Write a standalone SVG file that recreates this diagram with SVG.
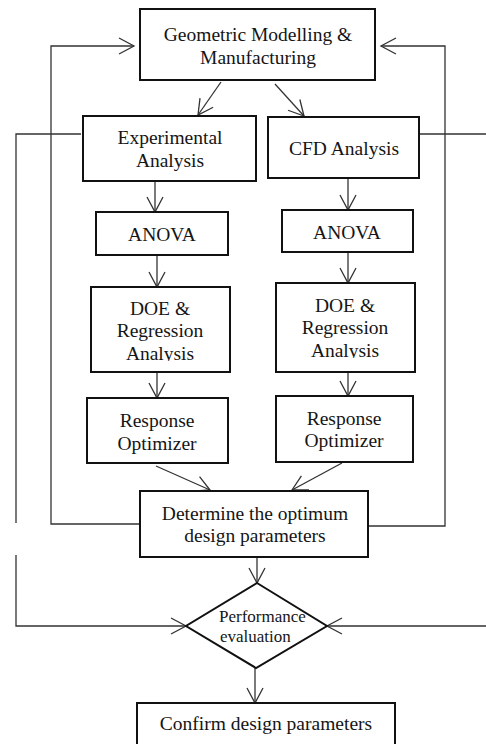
<svg xmlns="http://www.w3.org/2000/svg" width="486" height="744" viewBox="0 0 486 744">
  <style>
    .box { fill: #fff; stroke: #111; stroke-width: 2; }
    .lbl { font-family: "Liberation Serif", "Times New Roman", serif; font-size: 19.5px; fill: #151515; text-anchor: middle; }
    .small { font-family: "Liberation Serif", "Times New Roman", serif; font-size: 17px; fill: #151515; }
    .conn { fill: none; stroke: #333; stroke-width: 1.3; }
  </style>
  <defs>
    <marker id="arrow" markerUnits="userSpaceOnUse" viewBox="-16 -10 18 20" refX="0" refY="0" markerWidth="18" markerHeight="20" orient="auto" overflow="visible">
      <path d="M-15,-8 L0,0 L-15,8" fill="none" stroke="#333" stroke-width="1.3"/>
    </marker>
    <!-- trims the descender of the last line in the regression boxes -->
    <clipPath id="clipDoeL"><rect x="80" y="300" width="160" height="61"/></clipPath>
    <clipPath id="clipDoeR"><rect x="266" y="296" width="160" height="62"/></clipPath>
  </defs>

  <rect width="486" height="744" fill="#fff"/>

  <!-- connectors -->
  <g id="connectors" class="conn">
    <path d="M221,82 L198,115" marker-end="url(#arrow)"/>
    <path d="M275,84 L304,116" marker-end="url(#arrow)"/>
    <path d="M155,181 V212" marker-end="url(#arrow)"/>
    <path d="M157,255 V287" marker-end="url(#arrow)"/>
    <path d="M157,372 V398" marker-end="url(#arrow)"/>
    <path d="M348,178 V210" marker-end="url(#arrow)"/>
    <path d="M348,252 V283" marker-end="url(#arrow)"/>
    <path d="M348,372 V396" marker-end="url(#arrow)"/>
    <path d="M156,466 L210,490" marker-end="url(#arrow)"/>
    <path d="M342,463 L292,490" marker-end="url(#arrow)"/>
    <!-- feedback loops back to the modelling stage -->
    <path d="M140,524 H51 V46 H134" marker-end="url(#arrow)"/>
    <path d="M368,526 H445 V46 H381" marker-end="url(#arrow)"/>
    <!-- side inputs to the evaluation step -->
    <path d="M81,134 H16 V523 M16,555 V626 H186" marker-end="url(#arrow)"/>
    <path d="M419,134 H492 V626 H327" marker-end="url(#arrow)"/>
    <path d="M257,557 V583" marker-end="url(#arrow)"/>
    <path d="M255,668 V703" marker-end="url(#arrow)"/>
  </g>

  <g id="geometric-modelling">
    <rect class="box" x="140" y="9" width="235" height="71"/>
    <text class="lbl" x="258" y="41">Geometric Modelling &amp;</text>
    <text class="lbl" x="258" y="64">Manufacturing</text>
  </g>

  <g id="experimental-analysis">
    <rect class="box" x="83" y="116" width="173" height="65"/>
    <text class="lbl" x="170" y="144">Experimental</text>
    <text class="lbl" x="170" y="167">Analysis</text>
  </g>

  <g id="cfd-analysis">
    <rect class="box" x="268" y="117" width="151" height="61"/>
    <text class="lbl" x="344" y="155">CFD Analysis</text>
  </g>

  <g id="anova-left">
    <rect class="box" x="96" y="212" width="132" height="43"/>
    <text class="lbl" x="162" y="241">ANOVA</text>
  </g>

  <g id="anova-right">
    <rect class="box" x="282" y="210" width="131" height="42"/>
    <text class="lbl" x="347" y="239">ANOVA</text>
  </g>

  <g id="doe-left">
    <rect class="box" x="91" y="287" width="139" height="85"/>
    <text class="lbl" x="160" y="315">DOE &amp;</text>
    <text class="lbl" x="160" y="337">Regression</text>
    <text class="lbl" x="160" y="360" clip-path="url(#clipDoeL)">Analysis</text>
  </g>

  <g id="doe-right">
    <rect class="box" x="276" y="283" width="139" height="89"/>
    <text class="lbl" x="345" y="312">DOE &amp;</text>
    <text class="lbl" x="345" y="334">Regression</text>
    <text class="lbl" x="345" y="357" clip-path="url(#clipDoeR)">Analysis</text>
  </g>

  <g id="optimizer-left">
    <rect class="box" x="87" y="398" width="141" height="65"/>
    <text class="lbl" x="157" y="427">Response</text>
    <text class="lbl" x="157" y="450">Optimizer</text>
  </g>

  <g id="optimizer-right">
    <rect class="box" x="276" y="396" width="137" height="66"/>
    <text class="lbl" x="344" y="425">Response</text>
    <text class="lbl" x="344" y="447">Optimizer</text>
  </g>

  <g id="optimum-parameters">
    <rect class="box" x="140" y="491" width="228" height="66"/>
    <text class="lbl" x="255" y="520">Determine the optimum</text>
    <text class="lbl" x="255" y="542">design parameters</text>
  </g>

  <g id="performance-evaluation">
    <polygon class="box" points="257,583 327,626 256,668 186,626"/>
    <text class="small" x="219" y="622">Performance</text>
    <text class="small" x="220" y="642">evaluation</text>
  </g>

  <g id="confirm-parameters">
    <rect class="box" x="137" y="703" width="258" height="52"/>
    <text class="lbl" x="266" y="730">Confirm design parameters</text>
  </g>
</svg>
